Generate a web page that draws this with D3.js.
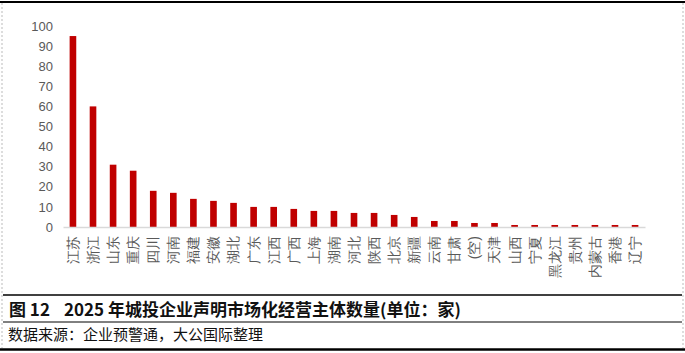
<!DOCTYPE html>
<html>
<head>
<meta charset="utf-8">
<script src="https://cdn.jsdelivr.net/npm/d3@7"></script>
<style>
  body { margin: 0; background: #fff; }
  svg { display: block; font-family: "Noto Sans CJK SC", "Noto Sans", sans-serif; }
</style>
</head>
<body>
<div id="chart"></div>
<script>
// provinces, in the order shown
var provinces = ["江苏", "浙江", "山东", "重庆", "四川", "河南", "福建", "安徽", "湖北", "广东",
    "江西", "广西", "上海", "湖南", "河北", "陕西", "北京", "新疆", "云南", "甘肃",
    "(空)", "天津", "山西", "宁夏", "黑龙江", "贵州", "内蒙古", "香港", "辽宁"];
var counts = [95, 60, 31, 28, 18, 17, 14, 13, 12, 10,
    10, 9, 8, 8, 7, 7, 6, 5, 3, 3,
    2, 2, 1, 1, 1, 1, 1, 1, 1];
var yTicks = [0, 10, 20, 30, 40, 50, 60, 70, 80, 90, 100];

var W = 685, H = 353;
var margin = {top: 26, left: 63, right: 40, bottom: 126};
var width = W - margin.left - margin.right;
var height = H - margin.top - margin.bottom;

var svg = d3.select("#chart").append("svg")
    .attr("width", W)
    .attr("height", H);

// frame
svg.append("line").attr("x1", 0).attr("x2", W).attr("y1", 2).attr("y2", 2)
    .attr("stroke", "#000").attr("stroke-width", 2);
svg.append("line").attr("x1", 2).attr("x2", 2).attr("y1", 3).attr("y2", 348)
    .attr("stroke", "#bbb").attr("stroke-dasharray", "2,2");
svg.append("line").attr("x1", 683).attr("x2", 683).attr("y1", 3).attr("y2", 348)
    .attr("stroke", "#bbb").attr("stroke-dasharray", "2,2");

var g = svg.append("g")
    .attr("transform", "translate(" + margin.left + "," + margin.top + ")");

var x = d3.scaleBand()
    .domain(provinces)
    .range([0, width])
    .paddingInner(0.67)
    .paddingOuter(0.33);

var y = d3.scaleLinear()
    .domain([0, 100])
    .range([height, 0]);

// y axis (labels only)
var yAxis = g.append("g")
    .call(d3.axisLeft(y).tickValues(yTicks).tickSize(0).tickPadding(10));
yAxis.select(".domain").remove();
yAxis.selectAll("text")
    .attr("fill", "#595959")
    .style("font-family", "Arial, 'Liberation Sans', sans-serif")
    .style("font-size", "13px");

// bars
g.selectAll("rect.bar")
    .data(counts)
    .enter()
    .append("rect")
    .attr("class", "bar")
    .attr("x", function (d, i) { return x(provinces[i]); })
    .attr("y", function (d) { return y(d); })
    .attr("width", x.bandwidth())
    .attr("height", function (d) { return height - y(d); })
    .attr("fill", "#c00000");

// x axis
var xAxis = g.append("g")
    .attr("transform", "translate(0," + height + ")")
    .call(d3.axisBottom(x).tickSize(0).tickPadding(0));
xAxis.select(".domain").attr("stroke", "#d9d9d9").attr("stroke-width", 1.3);
xAxis.selectAll("text")
    .attr("fill", "#595959")
    .style("font-size", "14px")
    .attr("text-anchor", "end")
    .attr("dy", "0.35em")
    .attr("transform", "translate(0,9) rotate(-90)")
    .attr("x", 0)
    .attr("y", 0);

// caption block
svg.append("line").attr("x1", 3).attr("x2", 682).attr("y1", 295).attr("y2", 295)
    .attr("stroke", "#000").attr("stroke-width", 1.5);
var title = svg.append("text")
    .attr("y", 316)
    .attr("font-size", "17px")
    .attr("font-weight", "bold")
    .attr("fill", "#111");
title.append("tspan").attr("x", 9).text("图 12");
title.append("tspan").attr("x", 64).text("2025 年城投企业声明市场化经营主体数量(单位：家)");
svg.append("line").attr("x1", 3).attr("x2", 682).attr("y1", 322).attr("y2", 322)
    .attr("stroke", "#000").attr("stroke-width", 1);
svg.append("text")
    .attr("x", 8).attr("y", 340)
    .attr("font-size", "15px")
    .attr("fill", "#111")
    .text("数据来源：企业预警通，大公国际整理");
svg.append("line").attr("x1", 0).attr("x2", W).attr("y1", 349.5).attr("y2", 349.5)
    .attr("stroke", "#000").attr("stroke-width", 2.5);
</script>
</body>
</html>
